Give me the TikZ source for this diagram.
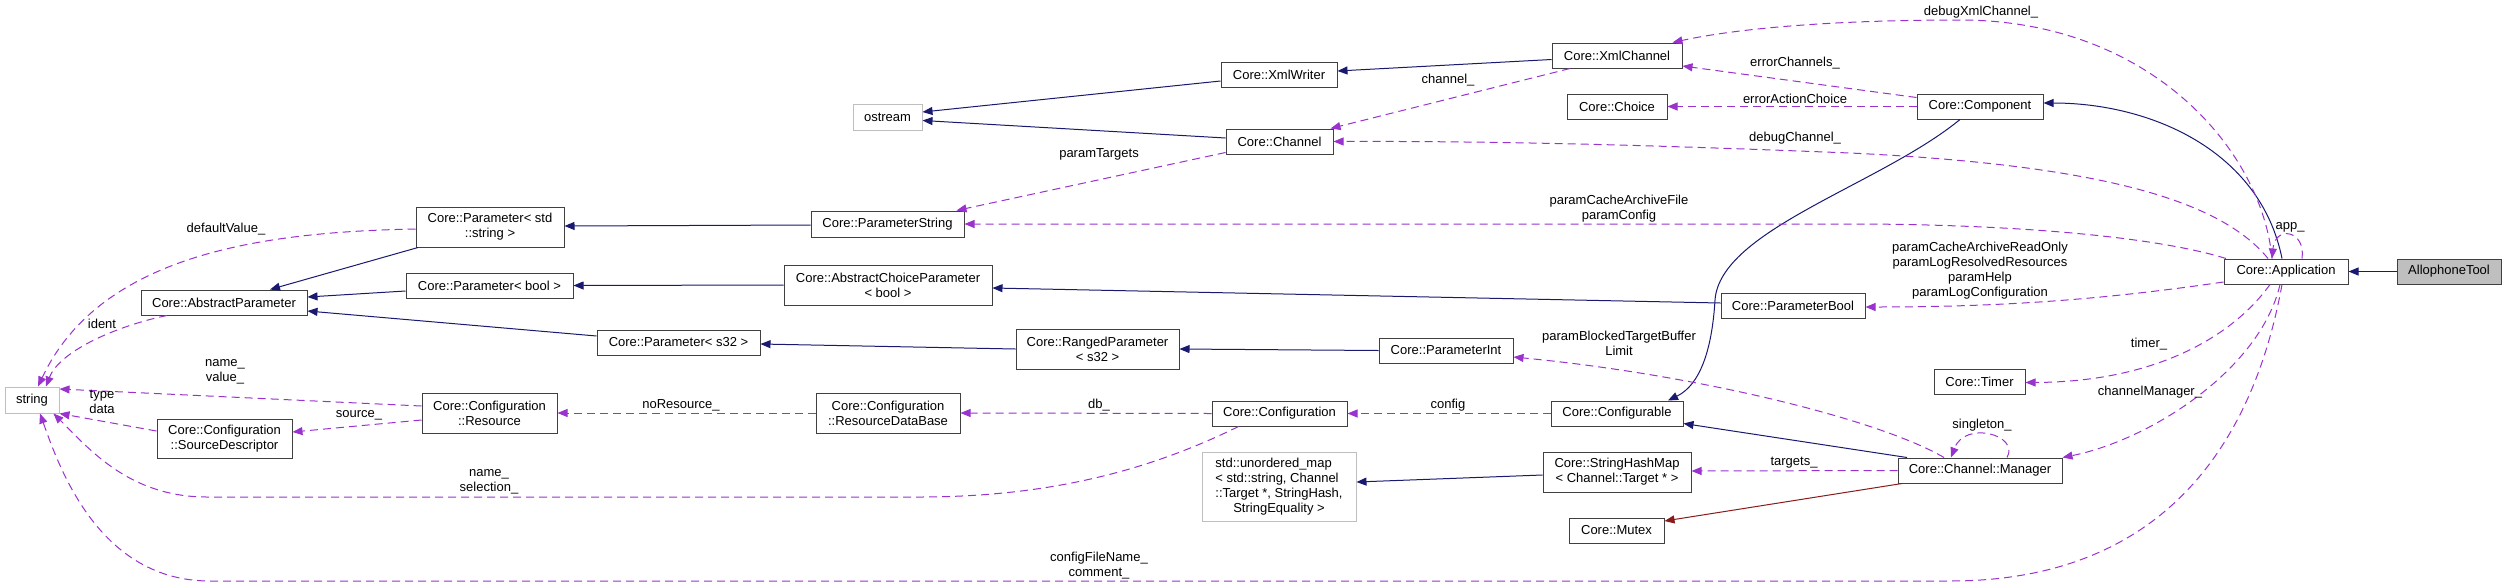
\documentclass[tikz,border=0pt]{standalone}
\usepackage{fontspec}
\setmainfont{Liberation Sans}
\usetikzlibrary{arrows.meta,calc}
\definecolor{navy}{HTML}{191970}
\definecolor{orch}{HTML}{9A32CD}
\definecolor{brick}{HTML}{8B1A1A}
\definecolor{bord}{HTML}{404040}
\definecolor{lgray}{HTML}{BFBFBF}
\begin{document}
\begin{tikzpicture}[x=1pt,y=-1pt,
  font=\fontsize{13}{15}\selectfont,
  cls/.style 2 args={draw=bord, line width=1pt, fill=white, inner sep=0pt, align=center, minimum width=#1pt, minimum height=#2pt},
  gcls/.style 2 args={draw=lgray, line width=1pt, fill=white, inner sep=0pt, align=center, minimum width=#1pt, minimum height=#2pt},
  lbl/.style={inner sep=0pt, align=center},
  tipa/.tip={Triangle[length=10pt,width=8pt]},
  inh/.style={draw=navy, line width=1pt, -tipa},
  prot/.style={draw=brick, line width=1pt, -tipa},
  use/.style={draw=orch, line width=1pt, dash pattern=on 8pt off 5pt, -tipa}]
\useasboundingbox (0,0) rectangle (2507,587);
% nodes
\node[gcls={54}{26}] (string) at (32,400) {string};
\node[cls={166}{25}] (absp) at (224,302.5) {Core::AbstractParameter};
\node[cls={135}{39}] (srcd) at (224.5,438.5) {Core::Configuration\\::SourceDescriptor};
\node[cls={135}{40}] (res) at (489.5,413) {Core::Configuration\\::Resource};
\node[cls={148}{40}] (pstr) at (490,227) {Core::Parameter< std\\::string >};
\node[cls={167}{25}] (pbool) at (489.5,285.5) {Core::Parameter< bool >};
\node[cls={163}{25}] (ps32) at (678.5,342.5) {Core::Parameter< s32 >};
\node[gcls={69}{26}] (ostream) at (887.5,117) {ostream};
\node[cls={153}{26}] (parstring) at (887.5,224) {Core::ParameterString};
\node[cls={208}{40}] (acp) at (888,285) {Core::AbstractChoiceParameter\\< bool >};
\node[cls={144}{40}] (rdb) at (888,413) {Core::Configuration\\::ResourceDataBase};
\node[cls={163}{40}] (ranged) at (1097.5,349) {Core::RangedParameter\\< s32 >};
\node[cls={116}{25}] (xmlw) at (1279,74.5) {Core::XmlWriter};
\node[cls={107}{25}] (chan) at (1279.5,141.5) {Core::Channel};
\node[cls={135}{25}] (conf) at (1279.5,413.5) {Core::Configuration};
\node[gcls={154}{69}] (umap) at (1279,486.5) {\begin{tabular}{@{}l@{}}std::unordered\_map\\< std::string, Channel\\::Target *, StringHash,\\\multicolumn{1}{@{}c@{}}{StringEquality >}\end{tabular}};
\node[cls={130}{25}] (xmlc) at (1617,55.5) {Core::XmlChannel};
\node[cls={100}{25}] (choice) at (1617,106.5) {Core::Choice};
\node[cls={134}{25}] (pint) at (1446,350.5) {Core::ParameterInt};
\node[cls={132}{25}] (cfgable) at (1617,413.5) {Core::Configurable};
\node[cls={148}{40}] (shm) at (1617,472) {Core::StringHashMap\\< Channel::Target * >};
\node[cls={95}{25}] (mutex) at (1616.5,530.5) {Core::Mutex};
\node[cls={126}{25}] (comp) at (1980,106.5) {Core::Component};
\node[cls={144}{25}] (pboolx) at (1793,305.5) {Core::ParameterBool};
\node[cls={91}{25}] (timer) at (1979.5,381.5) {Core::Timer};
\node[cls={164}{25}] (mgr) at (1980,470.5) {Core::Channel::Manager};
\node[cls={124}{25}] (app) at (2286,271.5) {Core::Application};
\node[cls={104}{25}, fill=lgray] (allo) at (2449,271.5) {AllophoneTool};
% inheritance edges
\draw[inh] ([yshift=-6.5pt]xmlw.west) -- ([yshift=5pt]ostream.east);
\draw[inh] ([yshift=3.5pt]chan.west) -- ([yshift=-3.5pt]ostream.east);
\draw[inh] ([yshift=-4pt]xmlc.west) -- ([yshift=3.5pt]xmlw.east);
\draw[inh] ([yshift=-1pt]parstring.west) -- ([yshift=1pt]pstr.east);
\draw[inh] ([xshift=-72pt]pstr.south) -- ([xshift=46pt]absp.north);
\draw[inh] ([yshift=-5.5pt]pbool.west) -- ([yshift=5.5pt]absp.east);
\draw[inh] ([yshift=6.5pt]ps32.west) -- ([yshift=-8.5pt]absp.east);
\draw[inh] (acp.west) -- (pbool.east);
\draw[inh] ([yshift=2.5pt]pboolx.west) -- ([yshift=-3pt]acp.east);
\draw[inh] (ranged.west) -- ([yshift=-1.5pt]ps32.east);
\draw[inh] (pint.west) -- (ranged.east);
\draw[inh] ([xshift=-4pt]app.north) .. controls (2260,150) and (2150,103) .. ([yshift=3.5pt]comp.east);
\draw[inh] ([xshift=-20pt]comp.south) .. controls (1880,185) and (1720,230) .. (1715,300) .. controls (1712,350) and (1700,385) .. ([xshift=51pt]cfgable.north);
\draw[inh] ([xshift=-73pt]mgr.north) -- ([yshift=-10pt]cfgable.east);
\draw[inh] (allo.west) -- (app.east);
\draw[inh] ([yshift=-3pt]shm.west) -- ([yshift=4.5pt]umap.east);
\draw[prot] ([xshift=-78pt]mgr.south) -- ([yshift=9.5pt]mutex.east);
% usage edges
\draw[use] ([xshift=-47pt]xmlc.south) -- ([xshift=-3pt]chan.north east);
\draw[use] ([yshift=9pt]comp.west) -- ([yshift=-10.5pt]xmlc.east);
\draw[use] (comp.west) -- (choice.east);
\draw[use] ([xshift=-14pt]app.north) .. controls (2262,150) and (2150,20) .. (1960,20) .. controls (1820,20) and (1730,30) .. ([xshift=-10pt]xmlc.north east);
\draw[use] ([xshift=-18pt]app.north) .. controls (2220,200) and (2100,165) .. (1850,153) .. controls (1650,145) and (1500,141) .. (chan.east);
\draw[use] ([xshift=-60pt]app.north) .. controls (2150,235) and (2000,224) .. (1850,224) -- (parstring.east);
\draw[use] ([yshift=-10.5pt]app.west) .. controls (2100,300) and (2000,307) .. ([yshift=-1.5pt]pboolx.east);
\draw[use] ([xshift=-16pt]app.south) .. controls (2230,340) and (2150,382) .. ([yshift=-1pt]timer.east);
\draw[use] ([xshift=-6pt]app.south) .. controls (2260,370) and (2150,440) .. (mgr.north east);
\draw[use] ([xshift=-4pt]app.south) .. controls (2250,460) and (2150,581) .. (1950,581) -- (210,581) .. controls (100,581) and (60,470) .. ([xshift=8pt]string.south);
\draw[use] ([xshift=-41pt]conf.south) .. controls (1150,470) and (1050,497) .. (919,497) -- (207,497) .. controls (130,497) and (90,450) .. ([xshift=-6pt]string.south east);
\draw[use] ([yshift=7pt]res.west) -- ([yshift=11pt]string.east);
\draw[use] ([yshift=7.5pt]srcd.west) -- (string.south east);
\draw[use] ([yshift=-7pt]res.west) -- ([yshift=6.5pt]srcd.east);
\draw[use] ([xshift=-57pt]absp.south) .. controls (120,325) and (60,350) .. ([xshift=14pt]string.north);
\draw[use] ([yshift=-2pt]pstr.west) .. controls (260,232) and (100,255) .. ([xshift=6pt]string.north);
\draw[use] (rdb.west) -- (res.east);
\draw[use] (conf.west) -- (rdb.east);
\draw[use] (cfgable.west) -- (conf.east);
\draw[use] ([yshift=-11pt]chan.west) -- ([xshift=-8pt]parstring.north east);
\draw[use] ([xshift=-36pt]mgr.north) .. controls (1880,420) and (1700,375) .. ([yshift=-6.5pt]pint.east);
\draw[use] (mgr.west) -- ([yshift=1pt]shm.east);
\draw[use] ([xshift=27pt]mgr.north) .. controls (2020,435) and (1965,420) .. ([xshift=-29pt]mgr.north);
\draw[use] ([xshift=16pt]app.north) .. controls (2306,230) and (2275,225) .. ([xshift=-14pt]app.north);
% labels
\node[lbl] (l1) at (226,229) {defaultValue\_};
\node[lbl] (l2) at (102,324) {ident};
\node[lbl] (l3) at (225,372) {name\_\\value\_};
\node[lbl] (l4) at (102,401.5) {type\\data};
\node[lbl] (l5) at (359,415) {source\_};
\node[lbl] (l6) at (489,482) {name\_\\selection\_};
\node[lbl] (l7) at (681,405) {noResource\_};
\node[lbl] (l8) at (1099,154) {paramTargets};
\node[lbl] (l9) at (1099,405) {db\_};
\node[lbl] (l10) at (1099,565.5) {configFileName\_\\comment\_};
\node[lbl] (l11) at (1448,80) {channel\_};
\node[lbl] (l12) at (1448,405) {config};
\node[lbl] (l13) at (1619,208.5) {paramCacheArchiveFile\\paramConfig};
\node[lbl] (l14) at (1619,343) {paramBlockedTargetBuffer\\Limit};
\node[lbl] (l15) at (1795,63) {errorChannels\_};
\node[lbl] (l16) at (1795,99) {errorActionChoice};
\node[lbl] (l17) at (1795,138) {debugChannel\_};
\node[lbl] (l18) at (1794,463) {targets\_};
\node[lbl] (l19) at (1981,12) {debugXmlChannel\_};
\node[lbl] (l20) at (1980,271) {paramCacheArchiveReadOnly\\paramLogResolvedResources\\paramHelp\\paramLogConfiguration};
\node[lbl] (l21) at (1982,425) {singleton\_};
\node[lbl] (l22) at (2149,344) {timer\_};
\node[lbl] (l23) at (2150,392) {channelManager\_};
\node[lbl] (l24) at (2290,227) {app\_};
\end{tikzpicture}
\end{document}
